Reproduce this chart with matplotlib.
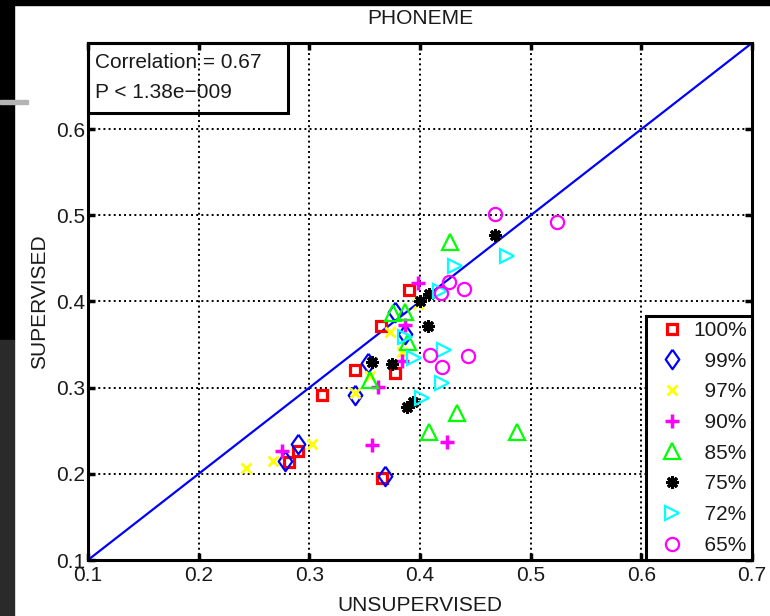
import numpy as np
import matplotlib.pyplot as plt
from matplotlib.patches import Rectangle

plt.rcParams['font.family'] = ['Liberation Sans', 'DejaVu Sans']

# values (unsupervised, supervised)
sq_x = [0.390, 0.365, 0.341, 0.311, 0.377, 0.282, 0.290, 0.366]
sq_y = [0.413, 0.372, 0.320, 0.292, 0.317, 0.214, 0.227, 0.195]
dia_x = [0.353, 0.341, 0.290, 0.278, 0.368, 0.377, 0.386]
dia_y = [0.329, 0.291, 0.235, 0.215, 0.197, 0.388, 0.362]
xx_x = [0.243, 0.267, 0.302, 0.341, 0.355, 0.373, 0.398, 0.384]
xx_y = [0.207, 0.215, 0.235, 0.294, 0.314, 0.365, 0.397, 0.341]
plus_x = [0.275, 0.357, 0.362, 0.384, 0.424, 0.386, 0.398]
plus_y = [0.227, 0.234, 0.301, 0.331, 0.237, 0.373, 0.422]
tri_x = [0.427, 0.433, 0.408, 0.488, 0.355, 0.376, 0.386, 0.389]
tri_y = [0.469, 0.271, 0.248, 0.248, 0.309, 0.387, 0.388, 0.353]
ast_x = [0.468, 0.408, 0.400, 0.407, 0.357, 0.375, 0.388, 0.394]
ast_y = [0.477, 0.409, 0.401, 0.371, 0.330, 0.327, 0.277, 0.283]
rt_x = [0.479, 0.432, 0.418, 0.422, 0.395, 0.420, 0.402, 0.386]
rt_y = [0.453, 0.441, 0.412, 0.344, 0.335, 0.305, 0.288, 0.359]
circ_x = [0.468, 0.524, 0.426, 0.440, 0.419, 0.409, 0.420, 0.443]
circ_y = [0.502, 0.492, 0.423, 0.414, 0.410, 0.338, 0.324, 0.337]

labels = ['100%', '99%', '97%', '90%', '85%', '75%', '72%', '65%']
ticks = [0.1, 0.2, 0.3, 0.4, 0.5, 0.6, 0.7]
tick_labels = ['0.1', '0.2', '0.3', '0.4', '0.5', '0.6', '0.7']

# matlab style diamond, a bit taller than wide
diamond = [(0, 1), (0.7, 0), (0, -1), (-0.7, 0), (0, 1)]

series = [
    (sq_x, sq_y, 's', 'red', 7.5, 2.3),
    (dia_x, dia_y, diamond, 'blue', 14, 1.6),
    (xx_x, xx_y, 'x', '#ffff00', 7, 2.0),
    (plus_x, plus_y, '+', 'magenta', 10, 2.5),
    (tri_x, tri_y, '^', '#00ff00', 11, 1.6),
    (ast_x, ast_y, (8, 2, 0), 'black', 9, 2.2),
    (rt_x, rt_y, '>', 'cyan', 10.5, 1.6),
    (circ_x, circ_y, 'o', 'magenta', 9.5, 1.6),
]

fig = plt.figure(figsize=(7.7, 6.16), dpi=100)

# screenshot frame around the figure
W, H = 770.0, 616.0
fig.patches.append(Rectangle((0, 1 - 5/H), 1, 5/H, transform=fig.transFigure,
                             color='black', zorder=-10))
fig.patches.append(Rectangle((0, 1 - 340/H), 14/W, 340/H, transform=fig.transFigure,
                             color='black', zorder=-10))
fig.patches.append(Rectangle((0, 0), 14/W, 1 - 340/H, transform=fig.transFigure,
                             color='#2a2a2a', zorder=-10))
fig.patches.append(Rectangle((0, 1 - 104/H), 28/W, 4/H, transform=fig.transFigure,
                             color='#b4b4b4', zorder=-9))

ax = fig.add_axes([88/W, 56/H, 664/W, 517/H])

ax.plot([0.1, 0.7], [0.1, 0.7], color='blue', linewidth=1.6, zorder=2)

for (xs, ys, m, c, ms, mew), lab in zip(series, labels):
    if len(lab) < 4:
        lab = '  ' + lab
    ax.plot(xs, ys, linestyle='none', marker=m, markersize=ms,
            markerfacecolor='none', markeredgecolor=c, markeredgewidth=mew,
            label=lab, zorder=3)

ax.set_xlim(0.1, 0.7)
ax.set_ylim(0.1, 0.7)
ax.set_xticks(ticks)
ax.set_xticklabels(tick_labels)
ax.set_yticks(ticks[:-1])
ax.set_yticklabels(tick_labels[:-1])
ax.grid(True, linestyle=':', color='black', linewidth=1.4)
ax.tick_params(direction='in', top=True, right=True, length=5, width=2.5,
               labelsize=15, labelcolor='#1a1a1a')
ax.tick_params(axis='x', pad=4)
ax.tick_params(axis='y', pad=2)
for s in ax.spines.values():
    s.set_linewidth(2.2)

ax.set_title('PHONEME', fontsize=15, color='#1a1a1a', pad=14)
ax.set_xlabel('UNSUPERVISED', fontsize=15, color='#1a1a1a', labelpad=8)
ax.set_ylabel('SUPERVISED', fontsize=15, color='#1a1a1a', labelpad=5)

# correlation box in the top left corner
ax.add_patch(Rectangle((0, 1 - 70/517), 200/664, 70/517, transform=ax.transAxes,
                       fill=False, edgecolor='black', linewidth=2.2, zorder=5,
                       clip_on=False))
ax.text(7/664, (560 - 63)/517, 'Correlation = 0.67', transform=ax.transAxes,
        fontsize=15, color='#1a1a1a', va='center', ha='left')
ax.text(7/664, (560 - 93)/517, 'P < 1.38e\u2212009', transform=ax.transAxes,
        fontsize=15, color='#1a1a1a', va='center', ha='left')

leg = ax.legend(loc='lower right', borderaxespad=0, fancybox=False,
                edgecolor='black', framealpha=1, fontsize=15, numpoints=1,
                handlelength=2.0, handletextpad=0.0, borderpad=0.25,
                labelspacing=0.56)
leg.get_frame().set_linewidth(2.2)
for t in leg.get_texts():
    t.set_color('#1a1a1a')

plt.savefig('out.png', dpi=100)
